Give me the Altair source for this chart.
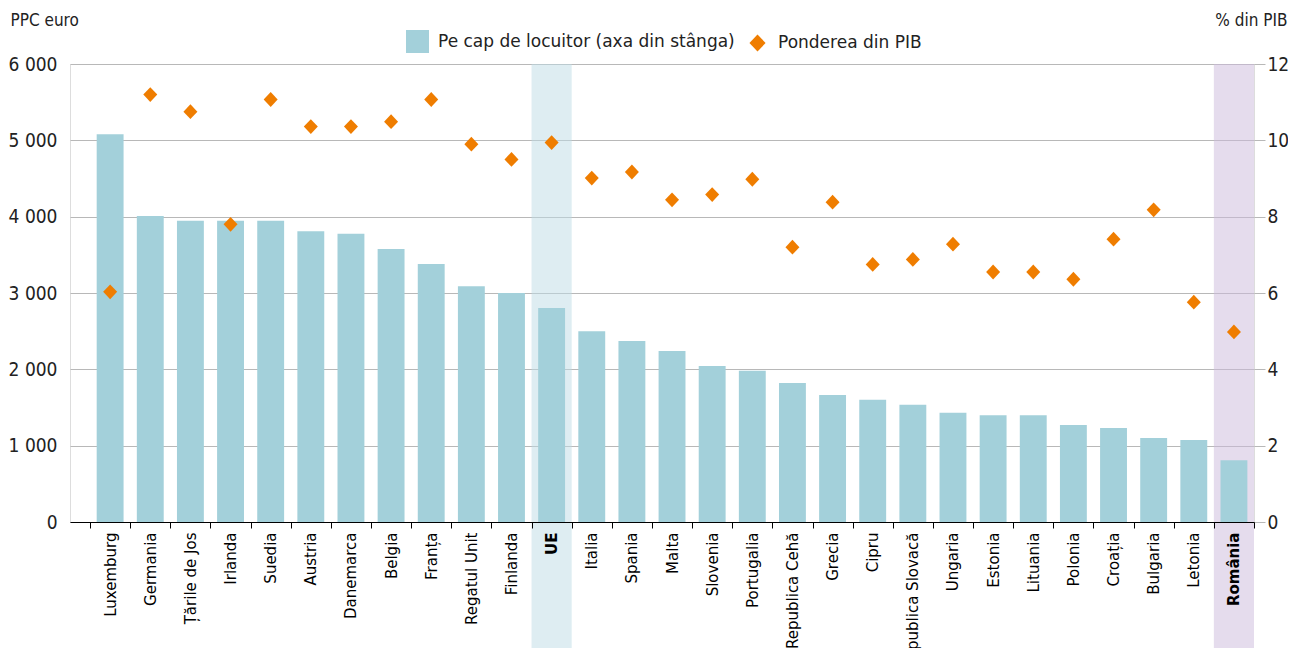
import altair as alt
import pandas as pd

countries = ["Luxemburg", "Germania", "Țările de Jos", "Irlanda", "Suedia", "Austria",
             "Danemarca", "Belgia", "Franța", "Regatul Unit", "Finlanda", "UE", "Italia",
             "Spania", "Malta", "Slovenia", "Portugalia", "Republica Cehă", "Grecia", "Cipru",
             "Republica Slovacă", "Ungaria", "Estonia", "Lituania", "Polonia", "Croația",
             "Bulgaria", "Letonia", "România"]
ppc_per_capita = [5080, 4010, 3945, 3945, 3945, 3810, 3775, 3575, 3380, 3090, 3000, 2805, 2500,
                  2370, 2240, 2045, 1980, 1820, 1665, 1600, 1535, 1430, 1400, 1400, 1270, 1230,
                  1100, 1075, 810]
pct_gdp = [6.03, 11.2, 10.75, 7.8, 11.07, 10.36, 10.36, 10.49, 11.07, 9.9, 9.5, 9.94, 9.01,
           9.17, 8.44, 8.58, 8.98, 7.2, 8.38, 6.75, 6.88, 7.28, 6.55, 6.55, 6.36, 7.41,
           8.18, 5.76, 4.98]

series_names = ["Pe cap de locuitor (axa din stânga)", "Ponderea din PIB"]
series_colors = ["#a3d0da", "#ef7d00"]
diamond = "M-0.7,0L0,-0.74L0.7,0L0,0.74Z"
series_shapes = ["square", diamond]

highlight_names = ["UE", "România"]
highlight_colors = ["#bddbe5", "#cbb9db"]

left_ticks = [0, 1000, 2000, 3000, 4000, 5000, 6000]
right_ticks = [0, 2, 4, 6, 8, 10, 12]

df = pd.DataFrame({"country": countries, "ppc": ppc_per_capita, "pct": pct_gdp})
hl = pd.DataFrame({"country": highlight_names, "hl": highlight_names})

W, H = 1184, 458
LABEL_FONT = "DejaVu Sans"
NUM_FONT = "'Liberation Sans Narrow', 'DejaVu Sans Condensed', sans-serif"

xscale = alt.Scale(domain=countries, paddingInner=0, paddingOuter=0.25, align=1)
xaxis = alt.Axis(
    title=None, labelAngle=270, tickBand="extent", domainColor="#000000",
    tickColor="#000000", tickSize=6, labelPadding=4, labelFont=LABEL_FONT,
    labelFontSize=15, labelColor="#000000", labelLimit=300, labelOverlap=False,
    zindex=1,
    labelFontWeight={"condition": {"test": "datum.value == 'UE' || datum.value == 'România'",
                                   "value": "bold"}, "value": "normal"},
)
x = alt.X("country:N", scale=xscale, axis=xaxis, sort=None)

legend = alt.Legend(title=None, orient="none", direction="horizontal",
                    legendX=336, legendY=-34, labelFont=LABEL_FONT,
                    labelFontSize=17, labelColor="#222222", labelLimit=600,
                    symbolSize=529, labelOffset=9, columnPadding=11,
                    symbolStrokeWidth=0, padding=0)
color = alt.Color("series:N", scale=alt.Scale(domain=series_names, range=series_colors),
                  legend=legend)
shape = alt.Shape("series:N", scale=alt.Scale(domain=series_names, range=series_shapes),
                  legend=legend)

band = alt.Chart(hl).mark_rect(opacity=0.5).encode(
    x=x,
    y=alt.value(0),
    y2=alt.value(H + 130),
    fill=alt.Fill("hl:N", scale=alt.Scale(domain=highlight_names, range=highlight_colors),
                  legend=None),
)

bars = alt.Chart(df).transform_calculate(series=f"'{series_names[0]}'").mark_bar(
    width=alt.RelativeBandSize(0.67)
).encode(
    x=x,
    y=alt.Y("ppc:Q", scale=alt.Scale(domain=[0, 6000]),
            axis=alt.Axis(values=left_ticks, grid=True, gridColor="#b8b8b8", ticks=False,
                          domain=False, labelPadding=13, labelFont=NUM_FONT,
                          labelFontSize=19, labelColor="#222222",
                          labelExpr="replace(format(datum.value, ','), ',', ' ')",
                          title="PPC euro", titleAngle=0, titleX=-60, titleY=-44,
                          titleAlign="left", titleBaseline="middle", titleFont=NUM_FONT,
                          titleFontSize=17, titleFontWeight="normal", titleColor="#222222")),
    color=color,
)

points = alt.Chart(df).transform_calculate(series=f"'{series_names[1]}'").mark_point(
    filled=True, size=400, opacity=1
).encode(
    x=x,
    y=alt.Y("pct:Q", scale=alt.Scale(domain=[0, 12]),
            axis=alt.Axis(orient="right", values=right_ticks, grid=False, domain=False,
                          tickColor="#b8b8b8", tickSize=11, labelPadding=2,
                          labelFont=NUM_FONT, labelFontSize=19, labelColor="#222222",
                          title="% din PIB", titleAngle=0, titleX=33, titleY=-44,
                          titleAlign="right", titleBaseline="middle", titleFont=NUM_FONT,
                          titleFontSize=17, titleFontWeight="normal", titleColor="#222222")),
    color=color,
    shape=shape,
)

chart = alt.layer(band, bars, points).resolve_scale(y="independent").properties(
    width=W, height=H,
    autosize=alt.AutoSizeParams(type="none"),
    padding={"left": 62, "top": 56, "right": 34, "bottom": 126},
).configure_view(stroke=None).configure(background="white")

chart.save("out.html", embed_options={"renderer": "svg", "actions": False})
